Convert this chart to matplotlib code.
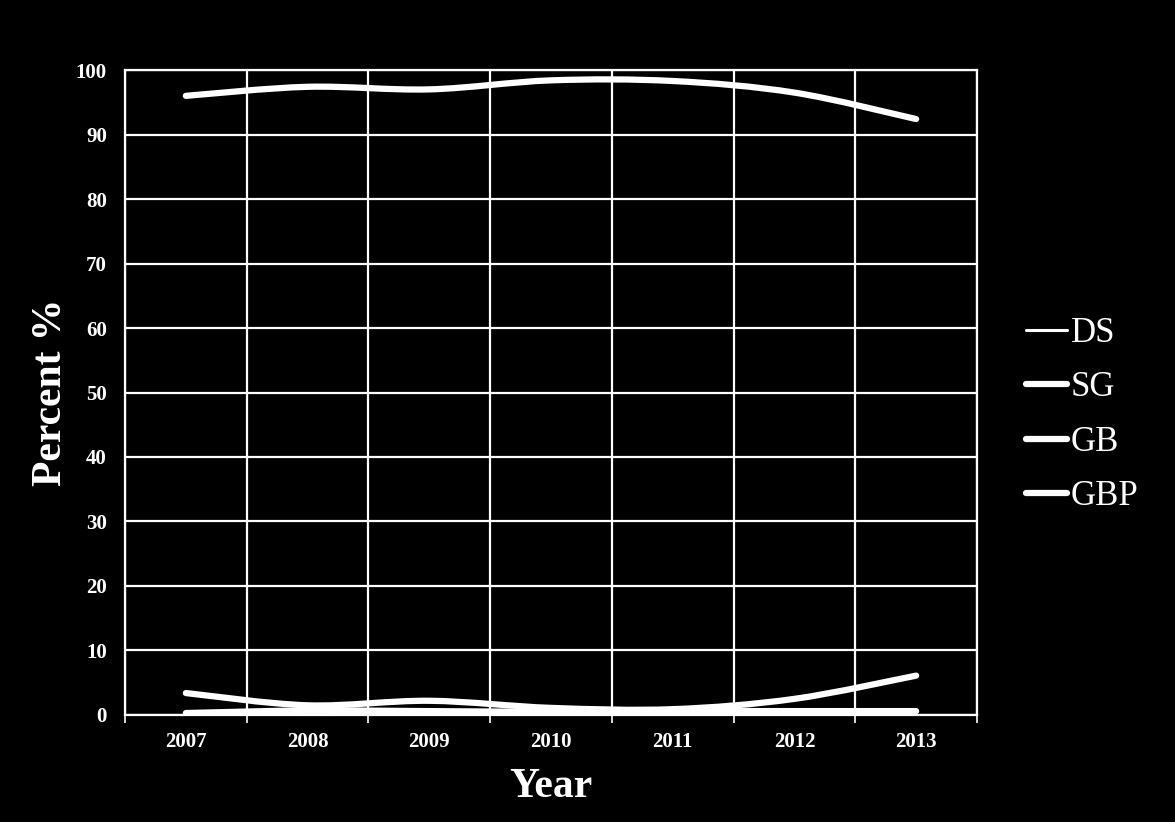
"""Share of categories per year, smoothed lines on black background."""

import numpy as np
import matplotlib
matplotlib.use("Agg")
from matplotlib import pyplot as plt
from matplotlib.path import Path
from matplotlib.patches import PathPatch
from matplotlib.lines import Line2D

# Data
years = ["2007", "2008", "2009", "2010", "2011", "2012", "2013"]
ds = [0.2, 0.4, 0.3, 0.2, 0.2, 0.3, 0.4]
sg = [96.0, 97.4, 97.0, 98.4, 98.3, 96.5, 92.4]
gb = [3.4, 1.5, 2.2, 1.1, 0.9, 2.5, 6.1]
gbp = [0.3, 0.7, 0.6, 0.5, 0.6, 0.6, 0.6]

series_names = ["DS", "SG", "GB", "GBP"]
series_values = [ds, sg, gb, gbp]
series_widths = [2.2, 4.5, 4.5, 4.5]

SERIF = ["Liberation Serif", "DejaVu Serif"]


def smooth_path(xs, ys):
    """Catmull-Rom style cubic Bezier path through the data points."""
    pts = np.column_stack([xs, ys]).astype(float)
    n = len(pts)
    verts = [pts[0]]
    codes = [Path.MOVETO]
    for i in range(n - 1):
        p_prev = pts[i - 1] if i > 0 else pts[i]
        p_next2 = pts[i + 2] if i + 2 < n else pts[i + 1]
        c1 = pts[i] + (pts[i + 1] - p_prev) / 6.0
        c2 = pts[i + 1] - (p_next2 - pts[i]) / 6.0
        verts += [c1, c2, pts[i + 1]]
        codes += [Path.CURVE4] * 3
    return Path(verts, codes)


fig = plt.figure(figsize=(11.75, 8.22), dpi=100, facecolor="black")
ax = fig.add_axes([0.1064, 0.1302, 0.7251, 0.7846], facecolor="black")

x = np.arange(len(years))
for vals, lw in zip(series_values, series_widths):
    patch = PathPatch(smooth_path(x, vals), fill=False, edgecolor="white",
                      linewidth=lw, capstyle="round", joinstyle="round",
                      zorder=3)
    ax.add_patch(patch)

ax.set_xlim(-0.5, len(years) - 0.5)
ax.set_ylim(0, 100)
ax.set_yticks(range(0, 101, 10))
ax.set_xticks(x)
ax.set_xticklabels(years)
ax.set_xticks(np.arange(-0.5, len(years)), minor=True)

# grid lines at category boundaries and on y ticks
ax.grid(True, which="minor", axis="x", color="white", linewidth=1.6)
ax.grid(True, which="major", axis="y", color="white", linewidth=1.6)
for s in ax.spines.values():
    s.set_color("white")
    s.set_linewidth(1.6)

ax.tick_params(axis="x", which="major", length=0, pad=12.5, colors="white")
ax.tick_params(axis="x", which="minor", length=6, width=1.2, color="white")
ax.tick_params(axis="y", length=0, pad=13, colors="white")
for lab in ax.get_xticklabels() + ax.get_yticklabels():
    lab.set_fontfamily(SERIF)
    lab.set_fontweight("bold")
    lab.set_fontsize(15)

ax.set_xlabel("Year", family=SERIF, fontweight="bold", fontsize=30,
              color="white", labelpad=11)
ax.set_ylabel("Percent %", family=SERIF, fontweight="bold", fontsize=30,
              color="white", labelpad=4)

handles = [Line2D([], [], color="white", linewidth=lw, solid_capstyle="round")
           for lw in series_widths]
leg = fig.legend(handles, series_names, loc="center left",
                 bbox_to_anchor=(0.873, 0.495), frameon=False,
                 handlelength=1.2, handletextpad=0.1, labelspacing=0.62,
                 borderpad=0, borderaxespad=0,
                 prop={"family": SERIF, "size": 25})
for t in leg.get_texts():
    t.set_color("white")

fig.savefig("out.png", dpi=100, facecolor="black")
